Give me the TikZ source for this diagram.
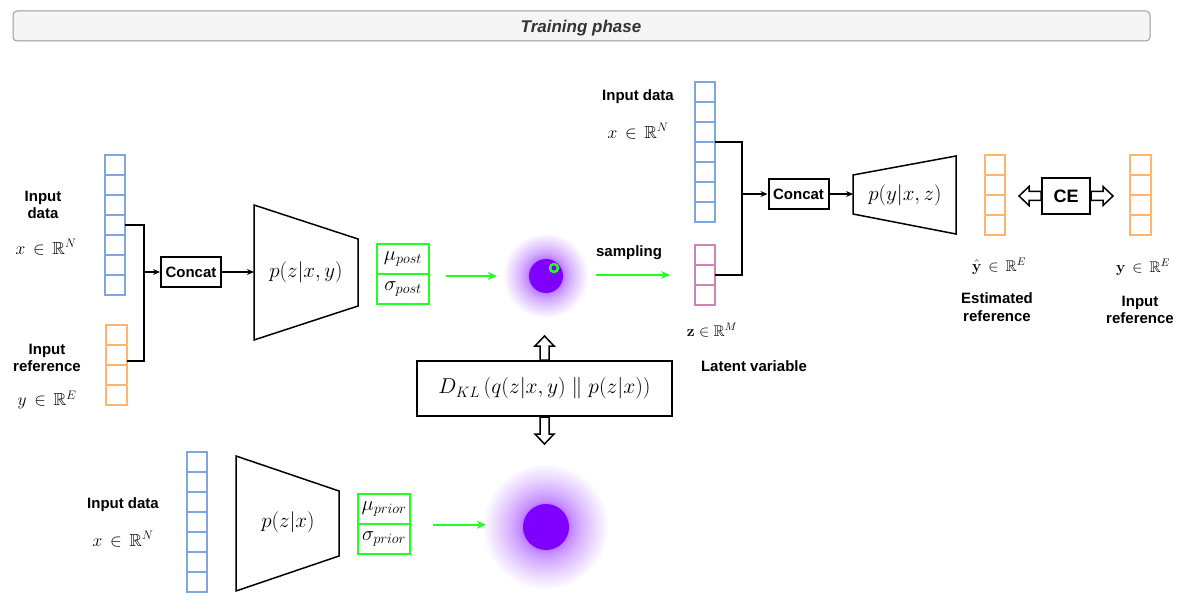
\RequirePackage{fix-cm}
\documentclass[tikz,border=0pt]{standalone}
\usepackage[no-math]{fontspec}
\setmainfont{Liberation Sans}
\usepackage{amsmath,amssymb}
\DeclareFontFamily{U}{msb}{}
\DeclareFontShape{U}{msb}{m}{n}{<-6>msbm5<6-8>msbm7<8->msbm10}{}
\usetikzlibrary{calc,arrows.meta}
\definecolor{vblue}{HTML}{7EA6E0}
\definecolor{vorange}{HTML}{FFB570}
\definecolor{vpink}{HTML}{CD85B5}
\definecolor{vgreen}{HTML}{22FF22}
\definecolor{vviolet}{HTML}{7F00FF}
\definecolor{hdrfill}{HTML}{F5F5F5}
\definecolor{hdrdraw}{HTML}{9A9A9A}
\definecolor{hdrtext}{HTML}{333333}
\newcommand\inR{\mathrel{\,\in\,}}
\tikzset{
  lbl/.style={font=\fontsize{15}{17.5}\selectfont\bfseries, align=center, inner sep=0},
  mth/.style={font=\fontsize{17.5}{19}\selectfont, inner sep=0},
  smth/.style={font=\fontsize{15.5}{17}\selectfont, inner sep=0},
  vecnode/.style={line width=1.5pt, inner sep=0, outer sep=0},
  boxnode/.style={draw=black, line width=2pt, inner sep=0, font=\fontsize{15}{17}\selectfont\bfseries},
  gbox/.style={draw=vgreen, line width=1.5pt, minimum width=52, minimum height=30, inner sep=0, font=\fontsize{20.5}{22}\selectfont},
  trap/.style={draw=black, line width=1.5pt, line join=miter},
  conn/.style={draw=black, line width=1.5pt},
  tip/.style={-{Stealth[length=7pt,width=6pt]}},
  garrow/.style={draw=vgreen, line width=2pt, -{Stealth[length=9pt,width=8pt]}},
  blockar/.style={draw=black, fill=white, line width=1.5pt, line join=miter},
  enclbl/.style={font=\fontsize{21}{23}\selectfont, inner sep=0}
}
\newcommand\cellvec[6]{%
  \node[vecnode, draw=#2, minimum width=#5, minimum height=20*#6, anchor=north west] (#1) at (#3,#4) {};
  \foreach \k in {1,...,#6}{\ifnum\k<#6\relax
    \draw[draw=#2, line width=1.5pt] ($(#1.north west)+(0,20*\k)$) -- ($(#1.north east)+(0,20*\k)$);\fi}%
}
\newcommand\glowblob[5]{% name, x, y, r, R
  \foreach \i in {0,...,29}{\fill[vviolet, opacity=0.026] (#2,#3) circle ({#4+(#5-#4)*(1-\i/30)*(1-\i/30)});}
  \node[circle, fill=vviolet, minimum size=2*#4, inner sep=0] (#1) at (#2,#3) {};
}
\newcommand\blkarrow[3]{% start, angle, length
  \draw[blockar, shift={(#1)}, rotate=#2] (0,-4.5) -- ({#3-10},-4.5) -- ({#3-10},-9.5) -- (#3,0) -- ({#3-10},9.5) -- ({#3-10},4.5) -- (0,4.5) -- cycle;
}
\begin{document}
\begin{tikzpicture}[x=1pt,y=-1pt]
\useasboundingbox (0,0) rectangle (1185,612);

% header
\node[draw=hdrdraw, fill=hdrfill, rounded corners=4pt, line width=1pt, minimum width=1137, minimum height=30, inner sep=0] (hdr) at (581.5,26) {};
\node[text=hdrtext, font=\fontsize{17}{19}\selectfont\bfseries\itshape, inner sep=0] (hdrt) at (581,28) {Training phase};

% ---------- posterior encoder ----------
\cellvec{xa}{vblue}{105}{155}{20}{7}
\cellvec{ya}{vorange}{106}{325}{21}{4}
\node[lbl] (lxa) at (43,205) {Input\\data};
\node[mth] (mxa) at (46,247) {$x \inR \mathbb{R}^N$};
\node[lbl] (lya) at (47,358) {Input\\reference};
\node[mth] (mya) at (47,400) {$y \inR \mathbb{R}^E$};

\node[boxnode, minimum width=60, minimum height=30] (concat1) at (191,272) {Concat};
\coordinate (j1) at (144,272);
\draw[conn] (xa.east) -| (j1) |- ($(ya.east)+(0,-4)$);
\draw[conn,tip] (j1) -- (concat1.west);

\draw[trap] (254,205) -- (358,239) -- (358,306) -- (254,340) -- cycle;
\coordinate (t1w) at (254,272);
\node[enclbl] (enc1) at (306,272) {$p(z|x,y)$};
\draw[conn,tip] (concat1.east) -- (t1w);

\node[gbox] (mup) at (403,259) {$\mu_{post}$};
\node[gbox] (sigp) at (403,289) {$\sigma_{post}$};

\glowblob{blob1}{546}{276}{17}{42}
\node[circle, draw=vgreen, line width=2.5pt, minimum size=8, inner sep=0] (samp) at (554,268) {};
\draw[garrow, shorten <=16pt, shorten >=32pt] (mup.south east |- blob1) -- (blob1.west);

% ---------- KL ----------
\node[draw=black, line width=2pt, minimum width=255, minimum height=55, inner sep=0,
      font=\fontsize{21.5}{24}\selectfont] (kl) at (544.5,388.5)
      {$D_{KL}\left(q(z|x,y)\;\|\;p(z|x)\right)$};
\blkarrow{kl.north}{90}{24}
\blkarrow{kl.south}{-90}{27}

% ---------- sampling / decoder ----------
\cellvec{xb}{vblue}{695}{82}{20}{7}
\cellvec{zb}{vpink}{695}{245}{20}{3}
\node[lbl] (lxb) at (638,97) {Input data};
\node[mth] (mxb) at (638,131) {$x \inR \mathbb{R}^N$};
\node[lbl] (lsamp) at (629,253) {sampling};
\draw[garrow, shorten <=33pt, shorten >=25pt] (zb.west -| blob1.east) -- (zb.west);
\node[smth] (mzb) at (712,330) {$\mathbf{z} \in \mathbb{R}^M$};
\node[lbl] (llat) at (754,366) {Latent variable};

\node[boxnode, minimum width=60, minimum height=30] (concat2) at (798.5,194) {Concat};
\coordinate (j2) at (742,194);
\draw[conn] ($(xb.north east)+(0,60)$) -| (j2) |- (zb.east);
\draw[conn,tip] (j2) -- (concat2.west);

\draw[trap] (853,175) -- (956,156) -- (956,234) -- (853,214) -- cycle;
\coordinate (t2w) at (853,194);
\node[enclbl] (dec) at (905,195) {$p(y|x,z)$};
\draw[conn,tip] (concat2.east) -- (t2w);

\cellvec{yhat}{vorange}{985}{155}{20}{4}
\cellvec{yref}{vorange}{1130}{155}{21}{4}
\node[boxnode, minimum width=48, minimum height=36, font=\fontsize{18}{20}\selectfont\bfseries] (ce) at (1066,196) {CE};
\blkarrow{ce.west}{180}{22}
\blkarrow{ce.east}{0}{22}

\node[smth] (myhat) at (999,266) {$\hat{\mathbf{y}} \inR \mathbb{R}^E$};
\node[smth] (myref) at (1143,267) {$\mathbf{y} \inR \mathbb{R}^E$};
\node[lbl] (lyhat) at (997,307) {Estimated\\reference};
\node[lbl] (lyref) at (1140,310) {Input\\reference};

% ---------- prior encoder ----------
\cellvec{xc}{vblue}{187}{452}{20}{7}
\node[lbl] (lxc) at (123,505) {Input data};
\node[mth] (mxc) at (123,539) {$x \inR \mathbb{R}^N$};
\draw[trap] (236,456) -- (339,491) -- (339,556) -- (236,591) -- cycle;
\node[enclbl] (enc2) at (288,522) {$p(z|x)$};
\node[gbox] (mupr) at (384,509) {$\mu_{prior}$};
\node[gbox] (sigpr) at (384,539) {$\sigma_{prior}$};
\glowblob{blob2}{546}{527}{23}{62}
\draw[garrow, shorten <=22pt, shorten >=37pt] (mupr.south east) -- (mupr.south east -| blob2.west);
\end{tikzpicture}
\end{document}
